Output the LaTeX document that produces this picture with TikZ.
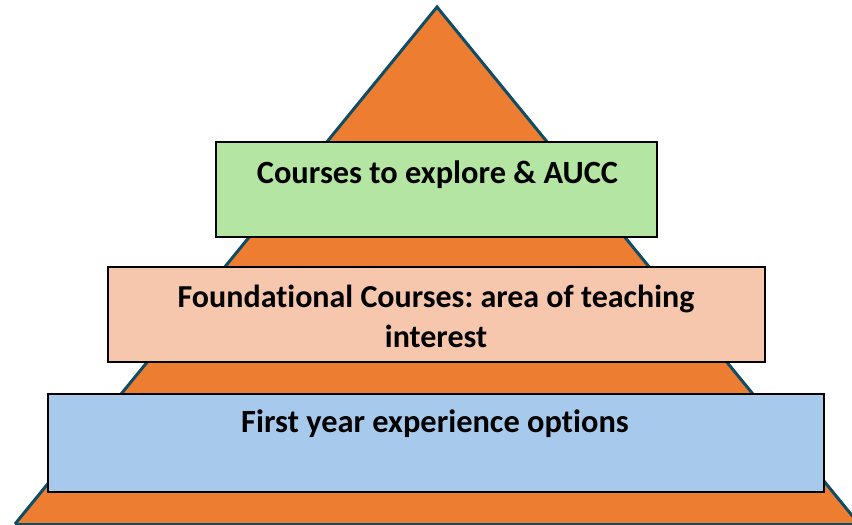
\documentclass[tikz,border=0pt]{standalone}
\usepackage{fontspec}
\setmainfont{Carlito}[Ligatures=NoCommon]
\frenchspacing
\definecolor{tri}{HTML}{ED7D31}
\definecolor{triedge}{HTML}{0F4C66}
\definecolor{gbox}{HTML}{B4E5A2}
\definecolor{pbox}{HTML}{F6C6AD}
\definecolor{bbox}{HTML}{A6C9EC}
\begin{document}
\begin{tikzpicture}[x=1pt,y=-1pt,
  layer/.style={draw=black,line width=1.6pt,rectangle,inner sep=0pt},
  lbl/.style={font=\fontsize{32.4}{40}\selectfont\bfseries,inner sep=0pt,align=center}]
\useasboundingbox (0,0) rectangle (852,525);
\clip (0,0) rectangle (852,525);
\coordinate (apex) at (437,7);
\coordinate (bl) at (15,524);
\coordinate (br) at (859,524);
\fill[tri] (apex) -- (bl) -- (br) -- cycle;
\draw[triedge,line width=3pt,line join=miter] (bl) -- (apex) -- (br);
\draw[triedge,line width=3pt] (bl) -- (br);
\node[layer,fill=gbox,minimum width=441pt,minimum height=95pt] (g) at (436.5,189.5) {};
\node[layer,fill=pbox,minimum width=657pt,minimum height=95pt] (p) at (436.5,314.5) {};
\node[layer,fill=bbox,minimum width=776pt,minimum height=98pt] (b) at (436,443) {};
\node[lbl,anchor=base] (gt) at (437.5,183) {Courses to explore \& AUCC};
\node[lbl,anchor=base,font=\fontsize{32}{40}\selectfont\bfseries] (pt) at (436,347) {Foundational Courses: area of teaching\\interest};
\node[lbl,anchor=base] (bt) at (435,432) {First year experience options};
\end{tikzpicture}
\end{document}
